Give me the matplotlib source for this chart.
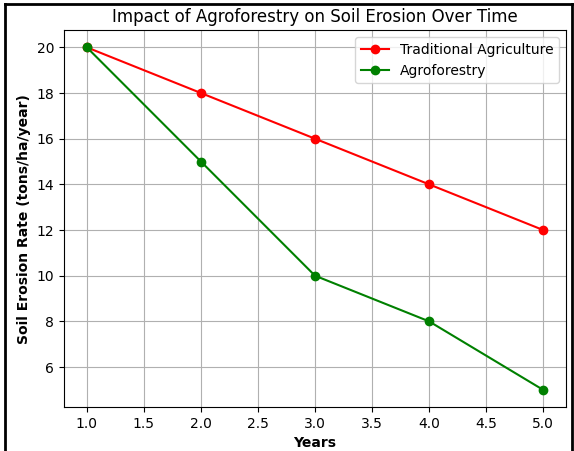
import matplotlib
matplotlib.use("Agg")
import matplotlib.pyplot as plt
from matplotlib.lines import Line2D

years = [1, 2, 3, 4, 5]
traditional = [20, 18, 16, 14, 12]
agroforestry = [20, 15, 10, 8, 5]

fig = plt.figure(figsize=(5.74, 4.51), dpi=100)
ax = fig.add_axes([0.1115, 0.0976, 0.8745, 0.8354])
ax.plot(years, traditional, marker='o', color='red', label='Traditional Agriculture')
ax.plot(years, agroforestry, marker='o', color='green', label='Agroforestry')
ax.set_title('Impact of Agroforestry on Soil Erosion Over Time', fontsize=12)
ax.set_xlabel('Years', fontweight='bold')
ax.set_ylabel('Soil Erosion Rate (tons/ha/year)', fontweight='bold')
ax.grid(True)
ax.legend(loc='upper right')

# outer frame
for (x0, y0, x1, y1) in [(0.009, 0.0, 0.009, 0.991), (0.009, 0.991, 0.997, 0.991), (0.997, 0.991, 0.997, 0.0)]:
    fig.add_artist(Line2D([x0, x1], [y0, y1], color='black', linewidth=2, transform=fig.transFigure))

fig.savefig('out.png', dpi=100)
